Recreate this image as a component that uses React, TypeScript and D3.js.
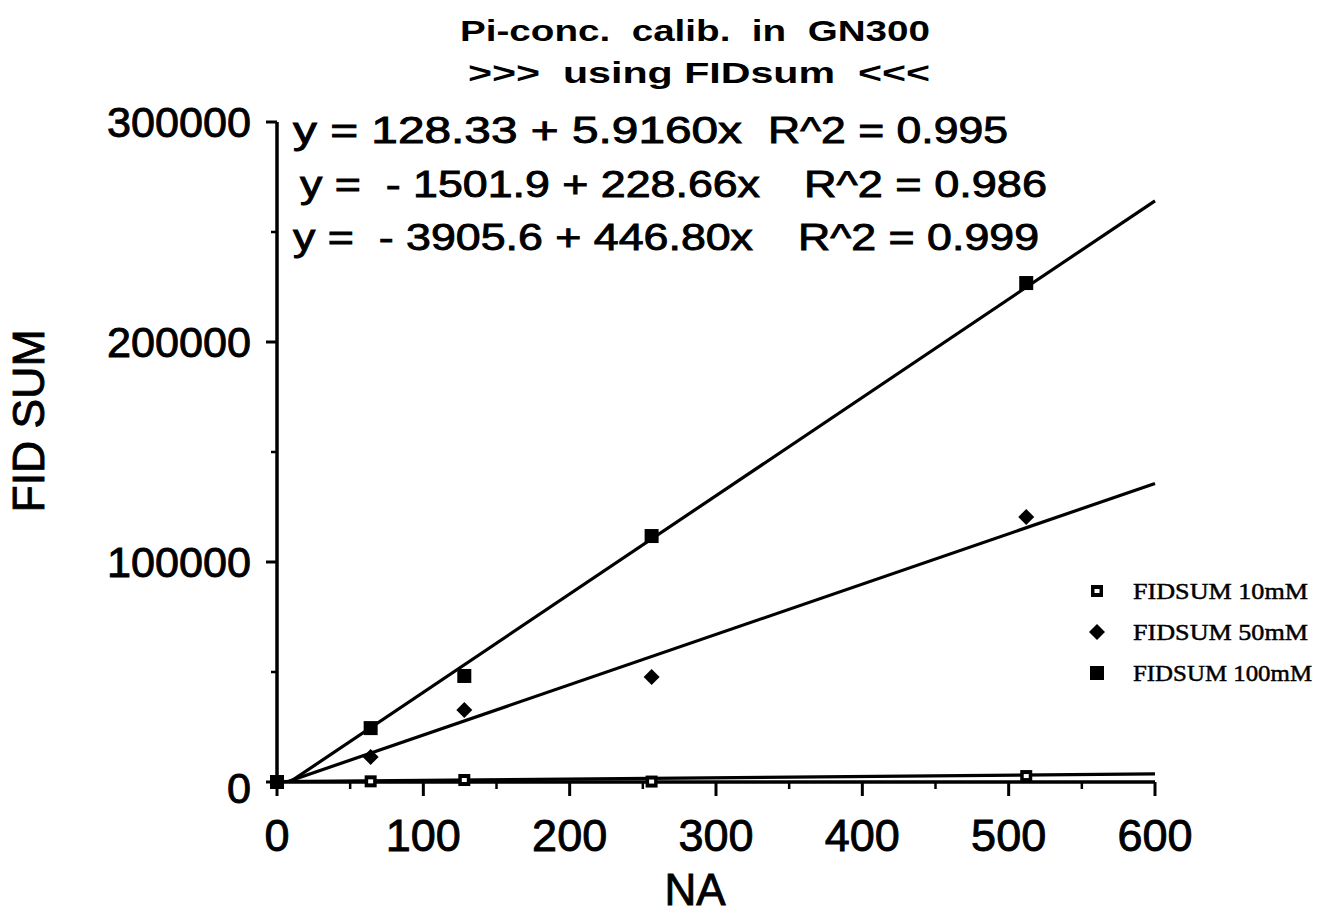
import React from "react";
import * as d3 from "d3";

const W = 1336;
const H = 913;

const titleLines = ["Pi-conc.  calib.  in  GN300", ">>>  using FIDsum  <<<"];
const xLabel = "NA";
const yLabel = "FID SUM";
const xTicks = [0, 100, 200, 300, 400, 500, 600];
const xMinorTicks = [50, 150, 250, 350, 450, 550];
const yTicks = [0, 100000, 200000, 300000];
const yMinorTicks = [50000, 150000, 250000];

const seriesNames = ["FIDSUM 10mM", "FIDSUM 50mM", "FIDSUM 100mM"];
const xValues = [0, 64, 128, 256, 512];
const y10mM = [0, 300, 900, 200, 2700];
const y50mM = [0, 11400, 32700, 47700, 120500];
const y100mM = [0, 24500, 48200, 111800, 226800];
const intercepts = [128.33, -1501.9, -3905.6];
const slopes = [5.916, 228.66, 446.8];
const eqTexts = [
  "y = 128.33 + 5.9160x",
  "y =  - 1501.9 + 228.66x",
  "y =  - 3905.6 + 446.80x",
];
const r2Texts = ["R^2 = 0.995", "R^2 = 0.986", "R^2 = 0.999"];

export default function App() {
  const x = d3.scaleLinear().domain([0, 600]).range([277, 1155]);
  const y = d3.scaleLinear().domain([0, 300000]).range([782, 122]);
  const seriesY = [y10mM, y50mM, y100mM];

  const regPath = (k: number) => {
    const gen = d3
      .line<number>()
      .x((d) => x(d))
      .y((d) => y(intercepts[k] + slopes[k] * d));
    return gen([0, 600]) || "";
  };

  const eqLayout = [
    { x0: 293, x1: 742, r0: 768, r1: 1008, base: 143 },
    { x0: 300, x1: 760, r0: 804, r1: 1047, base: 197 },
    { x0: 293, x1: 753, r0: 798, r1: 1039, base: 250 },
  ];

  const marker = (k: number, cx: number, cy: number, key: string) => {
    if (k === 0) {
      return (
        <g key={key}>
          <rect x={cx - 6} y={cy - 6} width={12} height={12} fill="#000" />
          <rect x={cx - 2.5} y={cy - 2} width={5} height={4} fill="#fff" />
        </g>
      );
    }
    if (k === 1) {
      return (
        <path
          key={key}
          d={`M${cx},${cy - 8}L${cx + 8},${cy}L${cx},${cy + 8}L${cx - 8},${cy}Z`}
          fill="#000"
        />
      );
    }
    return <rect key={key} x={cx - 7} y={cy - 7} width={14} height={14} fill="#000" />;
  };

  const sans = "Arial, 'Liberation Sans', Helvetica, sans-serif";
  const serif = "'Times New Roman', 'Liberation Serif', serif";
  const heavy = { stroke: "#000", strokeWidth: 0.9 };

  return (
    <svg
      width={W}
      height={H}
      style={{ position: "absolute", left: 0, top: 0, background: "#fff" }}
    >
      <defs>
        <clipPath id="plot">
          <rect x={277} y={100} width={900} height={682} />
        </clipPath>
      </defs>
      {/* Title */}
      <text x={460} y={41} fontFamily={sans} fontWeight="bold" fontSize={30}
        textLength={470} lengthAdjust="spacingAndGlyphs" style={{ whiteSpace: "pre" }}>
        {titleLines[0]}
      </text>
      <text x={468} y={83} fontFamily={sans} fontWeight="bold" fontSize={30}
        textLength={462} lengthAdjust="spacingAndGlyphs" style={{ whiteSpace: "pre" }}>
        {titleLines[1]}
      </text>

      {/* Axes */}
      <line x1={x(0)} x2={x(0)} y1={y(300000)} y2={y(0) + 4} stroke="#000" strokeWidth={3.5} />
      <line x1={x(0) - 4} x2={x(600)} y1={y(0)} y2={y(0)} stroke="#000" strokeWidth={3.5} />
      {yTicks.map((t) => (
        <line key={"yt" + t} x1={x(0) - 11} x2={x(0)} y1={y(t)} y2={y(t)} stroke="#000" strokeWidth={3} />
      ))}
      {yMinorTicks.map((t) => (
        <line key={"ym" + t} x1={x(0) - 6} x2={x(0)} y1={y(t)} y2={y(t)} stroke="#000" strokeWidth={2.5} />
      ))}
      {xTicks.map((t) => (
        <line key={"xt" + t} x1={x(t)} x2={x(t)} y1={y(0)} y2={y(0) + 14} stroke="#000" strokeWidth={3} />
      ))}
      {xMinorTicks.map((t) => (
        <line key={"xm" + t} x1={x(t)} x2={x(t)} y1={y(0)} y2={y(0) + 7} stroke="#000" strokeWidth={2.5} />
      ))}

      {/* Tick labels */}
      {yTicks.map((t) => (
        <text key={"yl" + t} x={251} y={y(t) + 15 + (t === 0 ? 6 : 0)} textAnchor="end" fontFamily={sans}
          fontSize={42} textLength={t === 0 ? 24 : 144} lengthAdjust="spacingAndGlyphs" {...heavy}>
          {String(t)}
        </text>
      ))}
      {xTicks.map((t) => (
        <text key={"xl" + t} x={x(t)} y={851} textAnchor="middle" fontFamily={sans} fontSize={45} {...heavy}>
          {String(t)}
        </text>
      ))}

      {/* Axis labels */}
      <text x={695} y={905} textAnchor="middle" fontFamily={sans} fontSize={44} {...heavy}>
        {xLabel}
      </text>
      <text
        transform={`translate(44,421) rotate(-90)`}
        textAnchor="middle"
        fontFamily={sans}
        fontSize={44}
        textLength={183}
        lengthAdjust="spacingAndGlyphs"
        {...heavy}
      >
        {yLabel}
      </text>

      {/* Regression lines */}
      <g clipPath="url(#plot)">
        {slopes.map((_, k) => (
          <path key={"reg" + k} d={regPath(k)} fill="none" stroke="#000" strokeWidth={3.2} />
        ))}
      </g>

      {/* Points */}
      {seriesY.map((vals, k) =>
        vals.map((v, i) => marker(k, x(xValues[i]), y(v), `p${k}-${i}`))
      )}

      {/* Equations */}
      {eqLayout.map((L, k) => (
        <g key={"eq" + k}>
          <text x={L.x0} y={L.base} fontFamily={sans} fontSize={37} textLength={L.x1 - L.x0}
            lengthAdjust="spacingAndGlyphs" style={{ whiteSpace: "pre" }} {...heavy}>
            {eqTexts[k]}
          </text>
          <text x={L.r0} y={L.base} fontFamily={sans} fontSize={37} textLength={L.r1 - L.r0}
            lengthAdjust="spacingAndGlyphs" {...heavy}>
            {r2Texts[k]}
          </text>
        </g>
      ))}

      {/* Legend */}
      {seriesNames.map((name, k) => {
        const cy = 591 + k * 41;
        return (
          <g key={"lg" + k}>
            {marker(k, 1097, cy, "lm" + k)}
            <text x={1133} y={cy + 8} fontFamily={serif} fontSize={24} textLength={k === 2 ? 179 : 175}
              lengthAdjust="spacingAndGlyphs" stroke="#000" strokeWidth={0.5}>
              {name}
            </text>
          </g>
        );
      })}
    </svg>
  );
}
